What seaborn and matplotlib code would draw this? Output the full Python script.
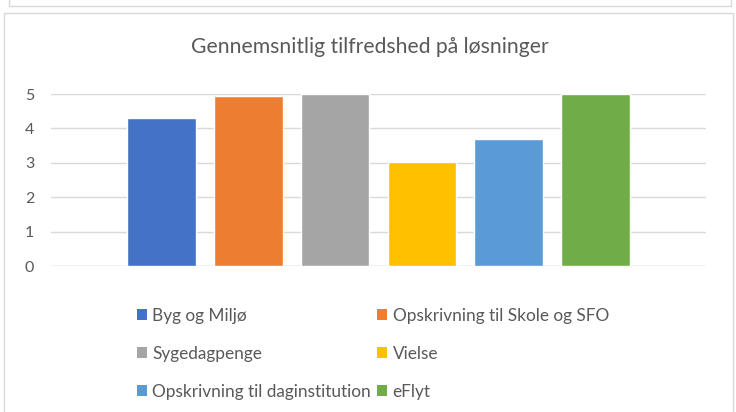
import matplotlib
matplotlib.use("Agg")
import matplotlib.pyplot as plt
import seaborn as sns
import pandas as pd
from matplotlib.patches import Patch, Rectangle

categories = ["Byg og Miljø", "Opskrivning til Skole og SFO", "Sygedagpenge",
              "Vielse", "Opskrivning til daginstitution", "eFlyt"]
values = [4.30, 4.95, 5.00, 3.02, 3.69, 5.00]
colors = ["#4472C4", "#ED7D31", "#A5A5A5", "#FFC000", "#5B9BD5", "#70AD47"]
yticks = [0, 1, 2, 3, 4, 5]
title = "Gennemsnitlig tilfredshed på løsninger"

sns.set_theme(style="white")
plt.rcParams["font.family"] = ["Lato", "DejaVu Sans"]
text_color = "#595959"

df = pd.DataFrame({"cat": categories, "val": values})

fig = plt.figure(figsize=(7.36, 4.12), dpi=100)
W, H = 736, 412
ax = fig.add_axes([51 / W, (H - 266) / H, (706 - 51) / W, (266 - 94) / H])

sns.barplot(data=df, x="cat", y="val", hue="cat", palette=colors,
            order=categories, hue_order=categories, width=0.79,
            dodge=False, legend=False, saturation=1, ax=ax, zorder=3)

ax.set_xlim(-1.27, 6.27)
ax.set_ylim(0, 5)
ax.set_yticks(yticks)
ax.set_yticklabels([str(t) for t in yticks], color=text_color, fontsize=11.5)
ax.set_xticks([])
ax.set_xlabel("")
ax.set_ylabel("")
ax.grid(axis="y", color="#D9D9D9", linewidth=1, zorder=0)
ax.set_axisbelow(True)
for s in ax.spines.values():
    s.set_visible(False)
ax.tick_params(axis="y", length=0, pad=12)
ax.axhline(0, color="#D9D9D9", linewidth=1, zorder=1)

fig.text(370 / W, 1 - 47 / H, title, ha="center", va="center",
         fontsize=15.2, color=text_color)

handles = [Patch(facecolor=c, edgecolor="none") for c in colors]
order = [0, 2, 4, 1, 3, 5]
leg = fig.legend([handles[i] for i in order], [categories[i] for i in order],
                 ncol=2, loc="upper left", bbox_to_anchor=(130 / W, 1 - 301 / H),
                 frameon=False, fontsize=12.4, handlelength=0.6, handleheight=0.6,
                 handletextpad=0.3, columnspacing=0.35, labelspacing=1.28,
                 labelcolor=text_color, borderaxespad=0)

# chart borders
fig.patches.append(Rectangle((4 / W, -0.05), (733 - 4) / W, 1 - 13 / H + 0.05,
                             transform=fig.transFigure, fill=False,
                             edgecolor="#D9D9D9", linewidth=1))
fig.patches.append(Rectangle((9 / W, 1 - 6 / H), (731 - 9) / W, 0.2,
                             transform=fig.transFigure, fill=False,
                             edgecolor="#D9D9D9", linewidth=1))

fig.savefig("out.png", dpi=100)
